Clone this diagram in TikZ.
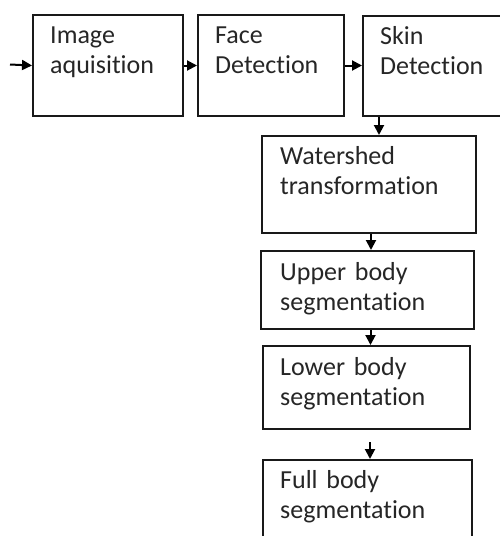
\documentclass[tikz,border=0pt]{standalone}
\usepackage{fontspec}
\setmainfont{Carlito}[Ligatures={NoCommon}]
\usetikzlibrary{arrows.meta,positioning}

\tikzset{
  stage/.style={draw=black!90, line width=2pt, anchor=north west, inner sep=0pt},
  lab/.style={font=\fontsize{26}{30}\selectfont, text=black!85, anchor=base west, align=left, text width=200pt, inner sep=0pt}
}

\begin{document}
\begin{tikzpicture}[
  x=1pt, y=-1pt,
  flow/.style={draw=black, line width=2pt, -{Triangle[length=10pt, width=10pt]}}
]
\useasboundingbox (0,0) rectangle (500,536);

% ---------- stages ----------
\node[stage, minimum width=150pt, minimum height=101pt] (img)  at (32,14)  {};
\node[stage, minimum width=146pt, minimum height=101pt] (face) at (197,14) {};
\node[stage, minimum width=146pt, minimum height=100pt] (skin) at (362,15) {};
\node[stage, minimum width=214pt, minimum height=97pt]  (ws)   at (261,135) {};
\node[stage, minimum width=213pt, minimum height=78pt]  (up)   at (260,250) {};
\node[stage, minimum width=207pt, minimum height=83pt]  (low)  at (262,345) {};
\node[stage, minimum width=209pt, minimum height=85pt]  (full) at (262,459) {};

% ---------- texts ----------
\node[lab] (imgT)  at ([shift={(18,29.5)}]img.north west)  {Image\\aquisition};
\node[lab] (faceT) at ([shift={(18,29.5)}]face.north west) {Face\\Detection};
\node[lab] (skinT) at ([shift={(18,29.5)}]skin.north west) {Skin\\Detection};
\node[lab] (wsT)   at ([shift={(19,29.5)}]ws.north west)   {Watershed\\transformation};
\node[lab] (upT)   at ([shift={(20,30)}]up.north west)     {Upper body\\segmentation};
\node[lab] (lowT)  at ([shift={(18,30)}]low.north west)    {Lower body\\segmentation};
\node[lab] (fullT) at ([shift={(18,29)}]full.north west)   {Full body\\segmentation};

% ---------- arrows ----------
\coordinate (start) at (10,64.5);
\draw[flow] (start) -- (img.west);
\draw[flow] (img.east) -- (face.west);
\draw[flow] (face.east) -- (skin.west |- face.east);
\draw[flow] ([xshift=17pt]skin.south west) -- ([xshift=17pt]skin.south west |- ws.north);
\draw[flow] ([xshift=2pt]ws.south) -- ([xshift=2pt]ws.south |- up.north);
\draw[flow] ([xshift=3pt]up.south) -- ([xshift=3pt]up.south |- low.north);
\draw[flow] ([shift={(3.5,12)}]low.south) -- ([xshift=3.5pt]low.south |- full.north);

\end{tikzpicture}
\end{document}
